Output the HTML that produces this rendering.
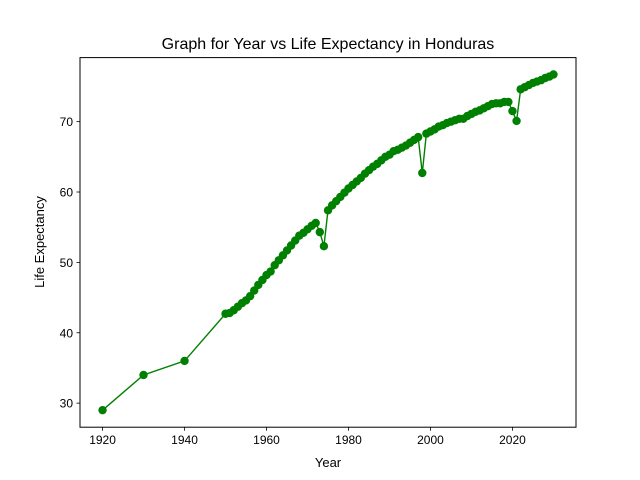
<!DOCTYPE html>
<html><head><meta charset="utf-8"><style>body{margin:0;background:#fff}svg{display:block;font-family:"Liberation Sans","DejaVu Sans",sans-serif}</style></head>
<body>
<svg id="chart" width="640" height="480" viewBox="0 0 640 480" xmlns="http://www.w3.org/2000/svg">
<rect width="640" height="480" fill="#fff"/>
<text x="328" y="49" text-anchor="middle" font-size="16">Graph for Year vs Life Expectancy in Honduras</text>
<g id="plot"></g>
<rect x="80" y="57.6" width="496" height="369.6" fill="none" stroke="#000" stroke-width="1"/>
<text x="328" y="467" text-anchor="middle" font-size="13">Year</text>
<text transform="translate(44,242) rotate(-90)" text-anchor="middle" font-size="13">Life Expectancy</text>
</svg>
<script>
const years = [1920,1930,1940];
for (let y=1950;y<=2030;y++) years.push(y);
const lifeExp = [29.0,34.0,36.0,
42.7,42.8,43.2,43.7,44.2,44.6,45.2,46.0,46.8,47.5,
48.2,48.7,49.6,50.3,51.0,51.7,52.4,53.1,53.8,54.2,
54.7,55.2,55.6,54.3,52.3,57.4,58.1,58.7,59.3,59.9,
60.5,61.0,61.5,62.0,62.6,63.1,63.6,64.0,64.5,65.0,
65.3,65.8,66.0,66.3,66.6,67.0,67.4,67.8,62.7,68.3,
68.6,68.9,69.3,69.5,69.8,70.0,70.2,70.4,70.4,70.8,
71.1,71.4,71.6,71.9,72.2,72.5,72.6,72.6,72.8,72.8,
71.5,70.1,74.6,74.9,75.2,75.5,75.7,75.9,76.2,76.4,76.7];
const xTicks = [1920,1940,1960,1980,2000,2020];
const yTicks = [30,40,50,60,70];
const X0=80,X1=576,Y0=427.2,Y1=57.6;
const xMin=1914.5,xMax=2035.5,yMin=26.58,yMax=79.1;
const sx=v=>X0+(v-xMin)/(xMax-xMin)*(X1-X0);
const sy=v=>Y0-(v-yMin)/(yMax-yMin)*(Y0-Y1);
const NS="http://www.w3.org/2000/svg";
const g=document.getElementById('plot');
function mk(t,a){const e=document.createElementNS(NS,t);for(const k in a)e.setAttribute(k,a[k]);g.appendChild(e);return e;}
xTicks.forEach(t=>{
 const l=mk('line',{x1:sx(t),x2:sx(t),y1:Y0,y2:Y0+3.5,stroke:'#000','stroke-width':0.8});
 
 
 const tx=mk('text',{x:sx(t),y:Y0+17,'text-anchor':'middle','font-size':'12'});
 tx.textContent=t;
 
 
});
yTicks.forEach(t=>{
 const l=mk('line',{x1:X0-3.5,x2:X0,y1:sy(t),y2:sy(t),stroke:'#000','stroke-width':0.8});
 
 
 const tx=mk('text',{x:X0-7,y:sy(t)+4.5,'text-anchor':'end','font-size':'12'});
 tx.textContent=t;
 
 
});
const pts=years.map((y,i)=>sx(y).toFixed(2)+','+sy(lifeExp[i]).toFixed(2)).join(' ');
const line=mk('polyline',{points:pts,fill:'none',stroke:'#008000','stroke-width':1.4});


years.forEach((y,i)=>{
 const c=mk('circle',{cx:sx(y),cy:sy(lifeExp[i]),r:4.2,fill:'#008000'});
 
 
});
</script>
</body></html>
